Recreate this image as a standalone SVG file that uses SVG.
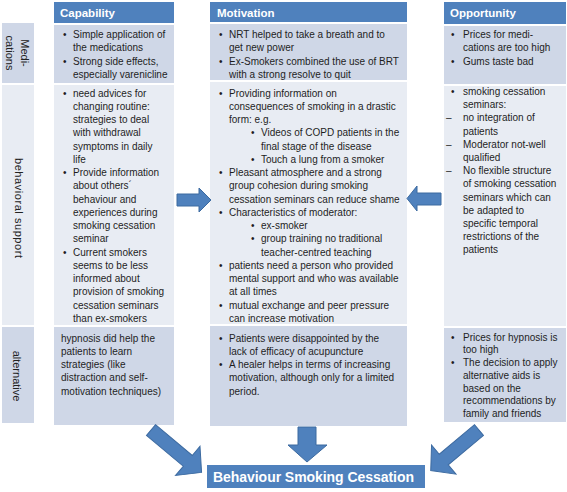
<svg xmlns="http://www.w3.org/2000/svg" width="567" height="492" viewBox="0 0 567 492">
<style>
.hd{fill:#4F81BD}
.dk{fill:#CFD7E7}
.lt{fill:#E8ECF3}
.h{font-family:"Liberation Sans",Arial,sans-serif;font-size:11.5px;font-weight:bold;fill:#fff}
.t{font-family:"Liberation Sans",Arial,sans-serif;font-size:10px;fill:#1e1e1e}
.l{font-family:"Liberation Sans",Arial,sans-serif;font-size:11px;fill:#222}
.arr{fill:#4F81BD;stroke:#3C6AA0;stroke-width:1}
</style>
<rect width="567" height="492" fill="#fff"/>

<g id="row-labels">
  <g id="label-medications">
    <rect class="dk" x="2" y="23" width="32" height="60"/>
    <text class="l" text-anchor="middle" transform="translate(21,53) rotate(90)">Medi-</text>
    <text class="l" text-anchor="middle" transform="translate(6,53) rotate(90)">cations</text>
  </g>
  <g id="label-behavioral">
    <rect class="lt" x="2" y="85" width="32" height="240"/>
    <text class="l" text-anchor="middle" transform="translate(15,208) rotate(90)" textLength="100">behavioral  support</text>
  </g>
  <g id="label-alternative">
    <rect class="dk" x="2" y="327" width="32" height="96"/>
    <text class="l" text-anchor="middle" transform="translate(13,376) rotate(90)">alternative</text>
  </g>
</g>

<g id="capability">
  <g id="cap-header">
    <rect class="hd" x="54" y="2" width="120" height="21"/>
    <text class="h" x="60" y="17">Capability</text>
  </g>
  <g id="cap-med">
    <rect class="dk" x="54" y="25" width="120" height="58"/>
    <text class="t"><tspan x="63" y="37.5">•</tspan><tspan x="73" y="37.5">Simple application of</tspan><tspan x="73" y="51">the medications</tspan><tspan x="63" y="64.5">•</tspan><tspan x="73" y="64.5">Strong side effects,</tspan><tspan x="73" y="77.5">especially varenicline</tspan></text>
  </g>
  <g id="cap-beh">
    <rect class="lt" x="54" y="85" width="120" height="240"/>
    <text class="t">
      <tspan x="63" y="96.5">•</tspan><tspan x="73" y="96.5">need advices for</tspan>
      <tspan x="73" y="109.75">changing routine:</tspan>
      <tspan x="73" y="123">strategies to deal</tspan>
      <tspan x="73" y="136.25">with withdrawal</tspan>
      <tspan x="73" y="149.5">symptoms in daily</tspan>
      <tspan x="73" y="162.75">life</tspan>
      <tspan x="63" y="176">•</tspan><tspan x="73" y="176">Provide information</tspan>
      <tspan x="73" y="189.25">about others´</tspan>
      <tspan x="73" y="202.5">behaviour and</tspan>
      <tspan x="73" y="215.75">experiences during</tspan>
      <tspan x="73" y="229">smoking cessation</tspan>
      <tspan x="73" y="242.25">seminar</tspan>
      <tspan x="63" y="255.5">•</tspan><tspan x="73" y="255.5">Current smokers</tspan>
      <tspan x="73" y="268.75">seems to be less</tspan>
      <tspan x="73" y="282">informed about</tspan>
      <tspan x="73" y="295.25">provision of smoking</tspan>
      <tspan x="73" y="308.5">cessation seminars</tspan>
      <tspan x="73" y="321.75">than ex-smokers</tspan>
    </text>
  </g>
  <g id="cap-alt">
    <rect class="dk" x="54" y="327" width="120" height="98"/>
    <text class="t">
      <tspan x="61" y="341.5">hypnosis did help the</tspan>
      <tspan x="61" y="354.8">patients to learn</tspan>
      <tspan x="61" y="368.1">strategies (like</tspan>
      <tspan x="61" y="381.4">distraction and self-</tspan>
      <tspan x="61" y="394.7">motivation techniques)</tspan>
    </text>
  </g>
</g>

<g id="motivation">
  <g id="mot-header">
    <rect class="hd" x="210" y="2" width="197" height="20"/>
    <text class="h" x="217" y="16.5">Motivation</text>
  </g>
  <g id="mot-med">
    <rect class="dk" x="210" y="24" width="197" height="56"/>
    <text class="t"><tspan x="219" y="37.5">•</tspan><tspan x="229" y="37.5">NRT helped to take a breath and to</tspan><tspan x="229" y="51">get new power</tspan><tspan x="219" y="64.5">•</tspan><tspan x="229" y="64.5">Ex-Smokers combined the use of BRT</tspan><tspan x="229" y="77.5">with a strong resolve to quit</tspan></text>
  </g>
  <g id="mot-beh">
    <rect class="lt" x="210" y="82" width="197" height="242"/>
    <text class="t">
      <tspan x="219" y="96.5">•</tspan><tspan x="229" y="96.5">Providing information on</tspan>
      <tspan x="229" y="109.75">consequences of smoking in a drastic</tspan>
      <tspan x="229" y="123">form: e.g.</tspan>
      <tspan x="251" y="136.25">•</tspan><tspan x="261" y="136.25">Videos of COPD patients in the</tspan>
      <tspan x="261" y="149.5">final stage of the disease</tspan>
      <tspan x="251" y="162.75">•</tspan><tspan x="261" y="162.75">Touch a lung from a smoker</tspan>
      <tspan x="219" y="176">•</tspan><tspan x="229" y="176">Pleasant atmosphere and a strong</tspan>
      <tspan x="229" y="189.25">group cohesion during smoking</tspan>
      <tspan x="229" y="202.5">cessation seminars can reduce shame</tspan>
      <tspan x="219" y="215.75">•</tspan><tspan x="229" y="215.75">Characteristics of moderator:</tspan>
      <tspan x="251" y="229">•</tspan><tspan x="261" y="229">ex-smoker</tspan>
      <tspan x="251" y="242.25">•</tspan><tspan x="261" y="242.25">group training no traditional</tspan>
      <tspan x="261" y="255.5">teacher-centred teaching</tspan>
      <tspan x="219" y="268.75">•</tspan><tspan x="229" y="268.75">patients need a person who provided</tspan>
      <tspan x="229" y="282">mental support and who was available</tspan>
      <tspan x="229" y="295.25">at all times</tspan>
      <tspan x="219" y="308.5">•</tspan><tspan x="229" y="308.5">mutual exchange and peer pressure</tspan>
      <tspan x="229" y="321.75">can increase motivation</tspan>
    </text>
  </g>
  <g id="mot-alt">
    <rect class="dk" x="210" y="326" width="197" height="100"/>
    <text class="t">
      <tspan x="219" y="341.5">•</tspan><tspan x="229" y="341.5">Patients were disappointed by the</tspan>
      <tspan x="229" y="354.8">lack of efficacy of acupuncture</tspan>
      <tspan x="219" y="368.1">•</tspan><tspan x="229" y="368.1">A healer helps in terms of increasing</tspan>
      <tspan x="229" y="381.4">motivation, although only for a limited</tspan>
      <tspan x="229" y="394.7">period.</tspan>
    </text>
  </g>
</g>

<g id="opportunity">
  <g id="opp-header">
    <rect class="hd" x="444" y="2" width="122" height="22"/>
    <text class="h" x="450" y="17">Opportunity</text>
  </g>
  <g id="opp-med">
    <rect class="dk" x="444" y="26" width="122" height="58"/>
    <text class="t"><tspan x="451" y="37.5">•</tspan><tspan x="463" y="37.5">Prices for medi-</tspan><tspan x="463" y="51">cations are too high</tspan><tspan x="451" y="64.5">•</tspan><tspan x="463" y="64.5">Gums taste bad</tspan></text>
  </g>
  <g id="opp-beh">
    <rect class="lt" x="444" y="86" width="122" height="240"/>
    <text class="t">
      <tspan x="451" y="95">•</tspan><tspan x="463" y="95">smoking cessation</tspan>
      <tspan x="463" y="108.2">seminars:</tspan>
      <tspan x="446" y="121.4">–</tspan><tspan x="463" y="121.4">no integration of</tspan>
      <tspan x="463" y="134.6">patients</tspan>
      <tspan x="446" y="147.8">–</tspan><tspan x="463" y="147.8">Moderator not-well</tspan>
      <tspan x="463" y="161">qualified</tspan>
      <tspan x="446" y="174.2">–</tspan><tspan x="463" y="174.2">No flexible structure</tspan>
      <tspan x="463" y="187.4">of smoking cessation</tspan>
      <tspan x="463" y="200.6">seminars which can</tspan>
      <tspan x="463" y="213.8">be adapted to</tspan>
      <tspan x="463" y="227">specific temporal</tspan>
      <tspan x="463" y="240.2">restrictions of the</tspan>
      <tspan x="463" y="253.4">patients</tspan>
    </text>
  </g>
  <g id="opp-alt">
    <rect class="dk" x="444" y="328" width="122" height="94"/>
    <text class="t">
      <tspan x="451" y="340.5">•</tspan><tspan x="463" y="340.5">Prices for hypnosis is</tspan>
      <tspan x="463" y="353.25">too high</tspan>
      <tspan x="451" y="366">•</tspan><tspan x="463" y="366">The decision to apply</tspan>
      <tspan x="463" y="378.75">alternative aids is</tspan>
      <tspan x="463" y="391.5">based on the</tspan>
      <tspan x="463" y="404.25">recommendations by</tspan>
      <tspan x="463" y="417">family and friends</tspan>
    </text>
  </g>
</g>

<g id="outcome">
  <rect class="hd" x="207" y="465" width="218" height="23"/>
  <text class="h" style="font-size:14px" x="213" y="482" textLength="201">Behaviour Smoking Cessation</text>
</g>

<g id="connectors">
  <path class="arr" d="M177,194 L199,194 L199,188 L211,200 L199,212 L199,206 L177,206 Z"/>
  <path class="arr" d="M441,193 L417,193 L417,186 L407,198.5 L417,211 L417,205 L441,205 Z"/>
  <path class="arr" d="M298,427 L316,427 L316,445 L327,445 L307,462 L288,445 L298,445 Z"/>
  <path class="arr" transform="translate(151,430) rotate(40)" d="M0,-7 L48,-7 L48,-19 L66,0 L48,19 L48,7 L0,7 Z"/>
  <path class="arr" transform="translate(479,430) rotate(140)" d="M0,-7 L46,-7 L46,-19 L63,0 L46,19 L46,7 L0,7 Z"/>
</g>
</svg>
